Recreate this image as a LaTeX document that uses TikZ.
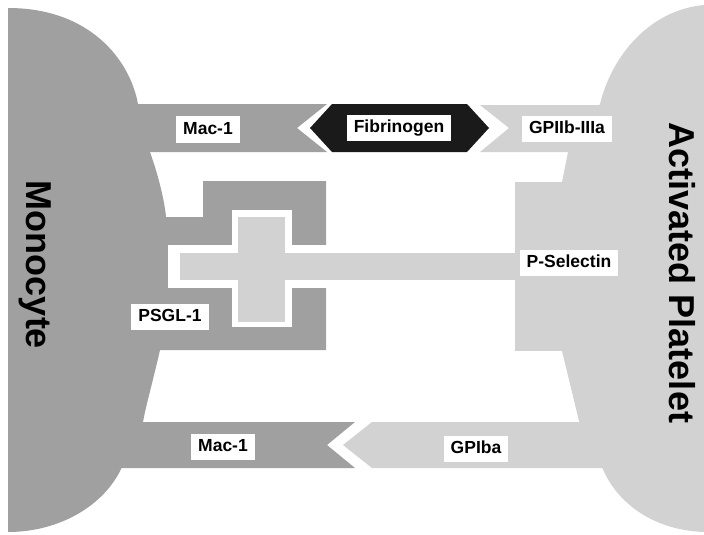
\documentclass[tikz,border=0pt]{standalone}
\usepackage{fontspec}
\setmainfont{Liberation Sans}
\definecolor{monogray}{RGB}{160,160,160}
\definecolor{platgray}{RGB}{210,210,210}
\definecolor{fibblack}{RGB}{26,26,26}

\begin{document}
\begin{tikzpicture}[x=1pt,y=-1pt,
        tag/.style={fill=white, inner xsep=7pt, inner ysep=5pt, text height=12.6pt, text depth=3.6pt,
            font=\fontsize{17.5}{18}\selectfont\bfseries},
        cellname/.style={rotate=-90, font=\fontsize{36}{40}\selectfont\bfseries}]
        \useasboundingbox (0,0) rectangle (704,535);

        % cell bodies
        \fill[monogray] (8,532) -- (8,8) .. controls (90,8) and (130,60) .. (138,104) -- (150,152)
            .. controls (160,180) and (165,205) .. (166,217) -- (160,350)
            .. controls (152,385) and (146,405) .. (143,422) -- (122,467)
            .. controls (105,505) and (60,532) .. (8,532) -- cycle;
        \fill[platgray] (704,5) .. controls (650,10) and (612,55) .. (600,104) -- (568,152) -- (562,182)
            -- (562,351) -- (579,421) -- (602,467) .. controls (615,500) and (650,530) .. (704,532) -- cycle;

        % Mac-1 / Fibrinogen / GPIIb-IIIa
        \fill[monogray] (100,104) -- (327,104) -- (297,128) -- (327,152) -- (100,152) -- cycle;
        \fill[fibblack] (310,128) -- (332,104) -- (467,104) -- (489,128) -- (467,152) -- (332,152) -- cycle;
        \fill[platgray] (480,105) -- (620,105) -- (620,152) -- (480,152) -- (509,128) -- cycle;

        % PSGL-1 and P-Selectin
        \fill[monogray] (203,181) -- (326,181) -- (326,350) -- (150,350) -- (150,217) -- (203,217) -- cycle;
        \fill[white] (168,245) rectangle (515,288);
        \fill[white] (232,210) rectangle (292,327);
        \fill[platgray] (180,253) rectangle (515,280);
        \fill[platgray] (238,217) rectangle (285,322);
        \fill[platgray] (515,182) rectangle (600,351);

        % Mac-1 / GPIba
        \fill[monogray] (100,422) -- (355,422) -- (327,445) -- (355,468) -- (100,468) -- cycle;
        \fill[platgray] (343,445) -- (372,422) -- (620,422) -- (620,468) -- (372,468) -- cycle;

        \node[tag] (mac1) at (208,129.5) {Mac-1};
        \node[tag] (fib) at (399,128) {Fibrinogen};
        \node[tag] (gp2b) at (567,129) {GPIIb-IIIa};
        \node[tag] (psel) at (569,263) {P-Selectin};
        \node[tag] (psgl) at (170,317) {PSGL-1};
        \node[tag] (mac1b) at (223,447) {Mac-1};
        \node[tag] (gp1b) at (476,449) {GPIba};

        \node[cellname] (mono) at (35,265) {Monocyte};
        \node[cellname] (plat) at (682,273) {Activated Platelet};
    \end{tikzpicture}
\end{document}
